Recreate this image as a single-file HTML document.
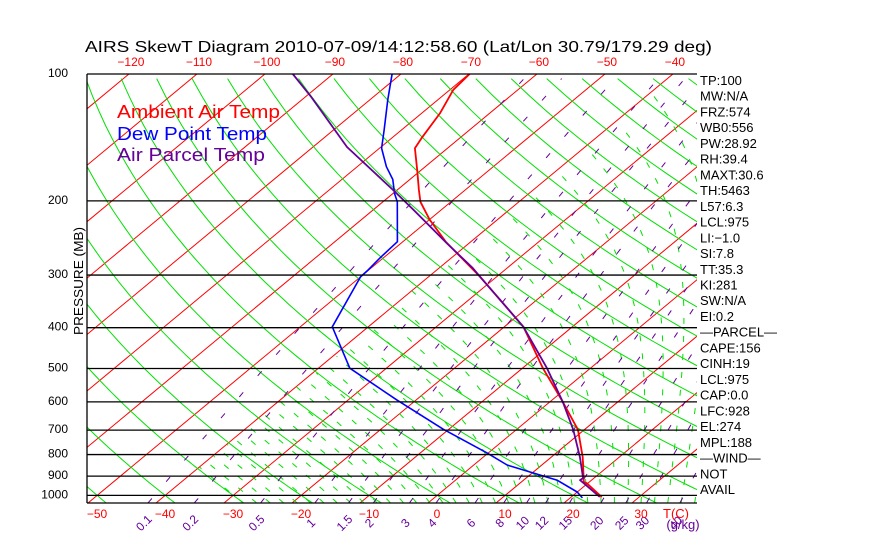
<!DOCTYPE html>
<html><head><meta charset="utf-8">
<style>
html,body{margin:0;padding:0;background:#fff;}
svg{display:block;font-family:"Liberation Sans",sans-serif;}
</style></head>
<body>
<svg id="chart" width="870" height="560" viewBox="0 0 870 560" xmlns="http://www.w3.org/2000/svg">
<rect x="0" y="0" width="870" height="560" fill="#fff"/>
<defs><clipPath id="plotclip"><rect x="87" y="74" width="610" height="429"/></clipPath></defs>
<text x="85" y="52" font-size="16" textLength="627" lengthAdjust="spacingAndGlyphs">AIRS SkewT Diagram 2010-07-09/14:12:58.60 (Lat/Lon 30.79/179.29 deg)</text>
<g id="bg" clip-path="url(#plotclip)"></g>
<g id="series" clip-path="url(#plotclip)"></g>
<g id="axes"></g>
<text transform="translate(83,281) rotate(-90)" text-anchor="middle" font-size="13" textLength="108" lengthAdjust="spacingAndGlyphs">PRESSURE (MB)</text>
<text x="117" y="118" font-size="18" fill="#ff0000" textLength="163" lengthAdjust="spacingAndGlyphs">Ambient Air Temp</text>
<text x="117" y="140" font-size="18" fill="#0000ff" textLength="150" lengthAdjust="spacingAndGlyphs">Dew Point Temp</text>
<text x="117" y="161" font-size="18" fill="#660099" textLength="148" lengthAdjust="spacingAndGlyphs">Air Parcel Temp</text>
<g id="stats"></g>
</svg>
<script>
// ---- data ----
const ambientP = [100,109,124,142,150,169,188.5,201,222,250,303,398,499,600,699,811,930,935,1009];
const ambientT = [-69.9,-69.5,-67.3,-65.6,-64.8,-60.6,-56.8,-54.5,-49.9,-43.7,-32.4,-17.2,-7.0,1.9,9.1,14.6,19.2,19.8,24.5];
const dewP = [100,115,136,150,166,178,192,201,250,273,292,303,398,499,594,696,793,847,880,920,982,1014];
const dewT = [-81.3,-77.4,-72.5,-69.7,-65.7,-62.5,-59.8,-57.9,-50.8,-50.5,-50.1,-50.0,-45.3,-35.4,-22.8,-10.9,-0.2,4.9,9.5,14.9,20.0,21.8];
const parcelP = [100,113,149,188.5,210,252,289,303,398,499,600,699,811,910,920,955,1009];
const parcelT = [-95.9,-89.3,-75.0,-60.6,-54.1,-43.3,-35.0,-32.4,-17.2,-6.4,1.9,8.4,14.2,18.4,18.3,20.7,24.2];
const pressureTicks = [100,200,300,400,500,600,700,800,900,1000];
const bottomTempTicks = [-50,-40,-30,-20,-10,0,10,20,30];
const topTempTicks = [-120,-110,-100,-90,-80,-70,-60,-50,-40];
const mixRatios = [0.1,0.2,0.5,1,1.5,2,3,4,6,8,10,12,15,20,25,30,40];
const mixLabels = ["0.1","0.2","0.5","1","1.5","2","3","4","6","8","10","12","15","20","25","30","40"];
const statLabels = ["TP:100","MW:N/A","FRZ:574","WB0:556","PW:28.92","RH:39.4","MAXT:30.6","TH:5463","L57:6.3","LCL:975","LI:\u22121.0","SI:7.8","TT:35.3","KI:281","SW:N/A","EI:0.2","\u2014PARCEL\u2014","CAPE:156","CINH:19","LCL:975","CAP:0.0","LFC:928","EL:274","MPL:188","\u2014WIND\u2014","NOT","AVAIL"];

// ---- axes functions ----
const NS="http://www.w3.org/2000/svg";
const X0=87,X1=697,Y0=74,Y1=503;
function yP(p){return 74+183*Math.log(p/100);}
function xTP(T,p){return 428+6.8*T+1.205*(503-yP(p));}
function mk(tag,attrs,parent){const e=document.createElementNS(NS,tag);for(const k in attrs)e.setAttribute(k,attrs[k]);parent.appendChild(e);return e;}
function pathFrom(pts){return pts.map((q,i)=>(i?'L':'M')+q[0].toFixed(1)+' '+q[1].toFixed(1)).join(' ');}
const bg=document.getElementById('bg'),ser=document.getElementById('series'),ax=document.getElementById('axes'),st=document.getElementById('stats');
const PBOT=100*Math.exp((Y1-Y0)/183);

// isotherms
for(let T=-160;T<=50;T+=10){
  const l=mk('line',{x1:xTP(T,PBOT),y1:Y1,x2:xTP(T,100),y2:Y0,stroke:'#ff0000','stroke-width':1},bg);
  
  
}
// dry adiabats
for(let th=-60;th<=260;th+=10){
  const pts=[];for(let p=PBOT;p>=99;p-=10){pts.push([xTP((th+273.15)*Math.pow(p/1000,0.286)-273.15,p),yP(p)]);}
  const e=mk('path',{d:pathFrom(pts),fill:'none',stroke:'#00e000','stroke-width':1},bg);
  
  
}
// moist adiabats (only drawn where T >= -40C)
function es(Tc){return 6.112*Math.exp(17.67*Tc/(Tc+243.5));}
function dTdp(T,p){const e=es(T-273.15),rs=0.622*e/(p-e);return (1/p)*(287*T+2.5e6*rs)/(1004+2.5e6*2.5e6*rs*0.622/(287*T*T));}
for(let tw=-30;tw<=40;tw+=2){
  let Tb=tw+273.15;for(let q=1000;q<PBOT;q+=2){Tb+=dTdp(Tb,q)*2;}
  let T=Tb,p=PBOT;
  const pts=[];
  while(p>=100){
    if(T-273.15<-40)break;
    pts.push([xTP(T-273.15,p),yP(p)]);T-=dTdp(T,p)*5;p-=5;
  }
  if(pts.length<2)continue;
  const e=mk('path',{d:pathFrom(pts),fill:'none',stroke:'#00e000','stroke-width':1,'stroke-dasharray':'6 12'},bg);
  
  
}
// mixing ratio lines
function tdW(w,p){const e=(w/1000)*p/(0.622+w/1000);const L=Math.log(e/6.112);return 243.5*L/(17.67-L);}
mixRatios.forEach((w,i)=>{
  const pts=[];for(let p=PBOT;p>=99;p-=10)pts.push([xTP(tdW(w,p),p),yP(p)]);
  const e=mk('path',{d:pathFrom(pts),fill:'none',stroke:'#660099','stroke-width':1,'stroke-dasharray':'6 22'},bg);
  
  
  const lx=xTP(tdW(w,PBOT),PBOT)-4;
  const t=mk('text',{x:lx,y:527,fill:'#660099','font-size':12,'text-anchor':'middle',transform:`rotate(-45 ${lx} 523)`},ax);
  t.textContent=mixLabels[i];
  
  
});
// pressure lines + labels
pressureTicks.forEach(p=>{
  const y=yP(p);
  const l=mk('line',{x1:X0,y1:y,x2:X1,y2:y,stroke:'#000','stroke-width':1.3},ax);
  
  
  const t=mk('text',{x:68,y:y+3,'font-size':12,'text-anchor':'end'},ax);
  t.textContent=String(p);
  
  
});
const bl=mk('line',{x1:X0,y1:Y1,x2:X1,y2:Y1,stroke:'#000','stroke-width':1.3},ax);


const lb=mk('line',{x1:X0,y1:Y0,x2:X0,y2:Y1,stroke:'#000','stroke-width':1.3},ax);


bottomTempTicks.forEach(T=>{
  const t=mk('text',{x:xTP(T,PBOT)+9,y:518,'font-size':12,fill:'#ff0000','text-anchor':'middle'},ax);
  t.textContent=T<0?'\u2212'+(-T):String(T);
  
  
});
topTempTicks.forEach(T=>{
  const t=mk('text',{x:xTP(T,100)+2,y:66,'font-size':12,fill:'#ff0000','text-anchor':'middle'},ax);
  t.textContent='\u2212'+(-T);
  
  
});
const tc=mk('text',{x:676,y:518,'font-size':13,fill:'#ff0000','text-anchor':'middle'},ax);
tc.textContent='T(C)';


const gk=mk('text',{x:683,y:529,'font-size':13,fill:'#660099','text-anchor':'middle'},ax);
gk.textContent='(g/kg)';


// series
function series(P,T,color,w,name){
  const pts=P.map((p,i)=>[xTP(T[i],p),yP(p)]);
  const e=mk('path',{d:pathFrom(pts),fill:'none',stroke:color,'stroke-width':w,'stroke-linejoin':'round'},ser);
  
  
}
series(dewP,dewT,'#0000ff',1.6,'dew-point-line');
series(ambientP,ambientT,'#ff0000',1.8,'ambient-temp-line');
series(parcelP,parcelT,'#660099',1.8,'parcel-temp-line');
// stats
statLabels.forEach((s,i)=>{
  const t=mk('text',{x:700,y:85+i*15.73,'font-size':13},st);
  t.textContent=s;
  
  
});
</script>
</body></html>
